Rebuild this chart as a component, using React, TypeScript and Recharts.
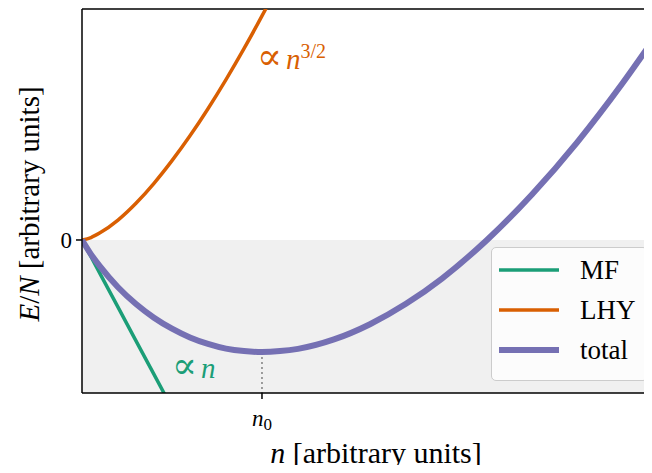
import React from "react";
import {
  Label,
  Line,
  LineChart,
  ReferenceArea,
  ReferenceDot,
  ReferenceLine,
  XAxis,
  YAxis,
} from "recharts";

// density grid (n0 = 1) and energy per particle for each contribution
const DENSITY = [
  0, 0.05, 0.1, 0.2, 0.3, 0.4, 0.5, 0.6, 0.7, 0.8, 0.9, 1.0, 1.1, 1.2, 1.4,
  1.6, 1.8, 2.0, 2.25, 2.5, 2.75, 3.0, 3.17,
];
const E_MF = [0, -0.075, -0.15, -0.3, -0.45, -0.6, -0.75];
const E_LHY = [
  0, 0.011, 0.032, 0.089, 0.164, 0.253, 0.354, 0.465, 0.586, 0.716, 0.854,
  1.0, 1.154, 1.315,
];
const E_TOTAL = [
  0, -0.064, -0.118, -0.211, -0.286, -0.347, -0.396, -0.435, -0.464, -0.485,
  -0.496, -0.5, -0.496, -0.486, -0.444, -0.376, -0.285, -0.172, 0, 0.203,
  0.435, 0.696, 0.889,
];

const N0 = 1;
const E_MIN = -0.5;
const X_MAX = 3.167;
const Y_MIN = -0.683;
const Y_MAX = 1.031;

const SERIES = [
  { key: "mf", name: "MF", color: "#1b9e77", width: 3.5 },
  { key: "lhy", name: "LHY", color: "#d95f02", width: 3.5 },
  { key: "total", name: "total", color: "#7570b3", width: 6 },
];

const FONT = '"Liberation Serif", "DejaVu Serif", serif';

const data = DENSITY.map((n, i) => ({
  n,
  mf: E_MF[i] ?? null,
  lhy: E_LHY[i] ?? null,
  total: E_TOTAL[i] ?? null,
}));

function XTick({ x, y }: any) {
  return (
    <text x={x} y={y + 25} textAnchor="middle" fontFamily={FONT} fontSize={23}>
      <tspan fontStyle="italic">n</tspan>
      <tspan fontSize={17} dy={4}>
        0
      </tspan>
    </text>
  );
}

function YTick({ x, y, payload }: any) {
  return (
    <text x={x} y={y + 8} textAnchor="end" fontFamily={FONT} fontSize={23}>
      {payload.value}
    </text>
  );
}

// "∝ n^p" annotation anchored at a data point
function Proportional({ viewBox, color, power }: any) {
  return (
    <text x={viewBox.x} y={viewBox.y} fontFamily={FONT} fontSize={29} fill={color}>
      <tspan fontSize={37}>∝</tspan>
      <tspan dx={4} fontStyle="italic">
        n
      </tspan>
      {power ? (
        <tspan fontSize={20} dy={-11}>
          {power}
        </tspan>
      ) : null}
    </text>
  );
}

function Legendbox() {
  return (
    <div
      style={{
        position: "absolute",
        left: 491,
        top: 247,
        width: 157,
        height: 134,
        boxSizing: "border-box",
        border: "1px solid #cccccc",
        borderRadius: 5,
        background: "rgba(255,255,255,0.8)",
        paddingTop: 2,
        fontFamily: FONT,
        fontSize: 27,
      }}
    >
      {SERIES.map((s) => (
        <div
          key={s.key}
          style={{ height: 40, display: "flex", alignItems: "center" }}
        >
          <svg width={60} height={10} style={{ marginLeft: 7 }}>
            <line
              x1={0}
              x2={60}
              y1={5}
              y2={5}
              stroke={s.color}
              strokeWidth={s.width}
            />
          </svg>
          <span style={{ marginLeft: 21, lineHeight: "40px" }}>{s.name}</span>
        </div>
      ))}
    </div>
  );
}

export default function App() {
  return (
    <div
      style={{
        position: "relative",
        margin: -8,
        width: 652,
        height: 473,
        overflow: "hidden",
        background: "#fff",
      }}
    >
      <LineChart
        width={652}
        height={473}
        data={data}
        margin={{ top: 9, right: 0, bottom: 0, left: 0 }}
      >
        <ReferenceArea
          x1={0}
          x2={X_MAX}
          y1={Y_MIN}
          y2={0}
          fill="#f0f0f0"
          fillOpacity={1}
          stroke="none"
        />
        <ReferenceLine
          segment={[
            { x: N0, y: E_MIN },
            { x: N0, y: Y_MIN },
          ]}
          stroke="#7f7f7f"
          strokeWidth={1.5}
          strokeDasharray="2 3"
        />
        <XAxis
          type="number"
          dataKey="n"
          domain={[0, X_MAX]}
          ticks={[N0]}
          allowDataOverflow
          height={80}
          tickSize={6}
          tick={<XTick />}
          axisLine={{ stroke: "#000", strokeWidth: 1.5 }}
          tickLine={{ stroke: "#000", strokeWidth: 1.5 }}
        >
          <Label
            content={({ viewBox }: any) => (
              <text
                x={viewBox.x + viewBox.width / 2 + 9}
                y={463}
                textAnchor="middle"
                fontFamily={FONT}
                fontSize={30}
              >
                <tspan fontStyle="italic">n</tspan> [arbitrary units]
              </text>
            )}
          />
        </XAxis>
        <YAxis
          type="number"
          domain={[Y_MIN, Y_MAX]}
          ticks={[0]}
          allowDataOverflow
          width={82}
          tickSize={6}
          tickMargin={4}
          tick={<YTick />}
          axisLine={{ stroke: "#000", strokeWidth: 1.5 }}
          tickLine={{ stroke: "#000", strokeWidth: 1.5 }}
        >
          <Label
            content={() => (
              <text
                x={39}
                y={204}
                textAnchor="middle"
                transform="rotate(-90 39 204)"
                fontFamily={FONT}
                fontSize={29}
              >
                <tspan fontStyle="italic">E</tspan>/
                <tspan fontStyle="italic">N</tspan> [arbitrary units]
              </text>
            )}
          />
        </YAxis>
        <ReferenceLine
          y={Y_MAX}
          stroke="#000"
          strokeWidth={1.5}
          ifOverflow="visible"
        />
        {SERIES.map((s) => (
          <Line
            key={s.key}
            dataKey={s.key}
            name={s.name}
            type={s.key === "mf" ? "linear" : "monotone"}
            stroke={s.color}
            strokeWidth={s.width}
            dot={false}
            isAnimationActive={false}
          />
        ))}
        <ReferenceDot
          x={0.972}
          y={0.763}
          r={0}
          fill="none"
          stroke="none"
          label={(props: any) => (
            <Proportional {...props} color="#d95f02" power="3/2" />
          )}
        />
        <ReferenceDot
          x={0.5}
          y={-0.616}
          r={0}
          fill="none"
          stroke="none"
          label={(props: any) => <Proportional {...props} color="#1b9e77" />}
        />
      </LineChart>
      <Legendbox />
    </div>
  );
}
